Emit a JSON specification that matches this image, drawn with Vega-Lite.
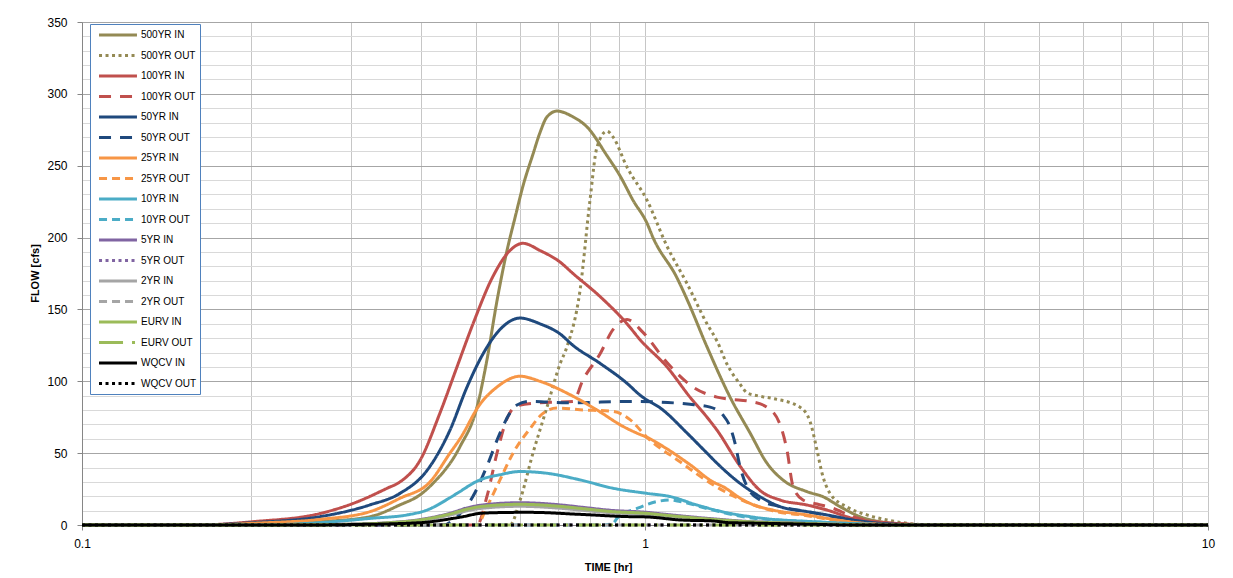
{
  "$schema": "https://vega.github.io/schema/vega-lite/v6.json",
  "width": 1126,
  "height": 503,
  "autosize": {"type": "none"},
  "padding": {"left": 82, "top": 22, "right": 25, "bottom": 53},
  "background": "white",
  "config": {
    "font": "Liberation Sans",
    "view": {"stroke": "#C6C6C6"},
    "legend": {
      "orient": "none", "legendX": 8, "legendY": 2, "direction": "vertical",
      "symbolType": "M-3.45,0H3.45", "symbolSize": 121, "symbolStrokeWidth": 3, "symbolOffset": 17,
      "labelFont": "Liberation Sans",
      "labelFontSize": 10, "labelOffset": 16, "rowPadding": 7.5, "padding": 4,
      "strokeColor": "#4F81BD", "fillColor": "white", "symbolOpacity": 1, "labelLimit": 200
    }
  },
  "data": {"values": [
    {"s":"500YR IN","t":0.1,"v":0},{"s":"500YR IN","t":0.17,"v":0},{"s":"500YR IN","t":0.2012,"v":0.5},{"s":"500YR IN","t":0.2647,"v":2.3},{"s":"500YR IN","t":0.3247,"v":5.8},{"s":"500YR IN","t":0.3671,"v":14},{"s":"500YR IN","t":0.3985,"v":21},{"s":"500YR IN","t":0.4202,"v":29},{"s":"500YR IN","t":0.4692,"v":54.5},{"s":"500YR IN","t":0.503,"v":82},{"s":"500YR IN","t":0.524,"v":115},{"s":"500YR IN","t":0.5459,"v":156},{"s":"500YR IN","t":0.5687,"v":191},{"s":"500YR IN","t":0.5878,"v":214},{"s":"500YR IN","t":0.6072,"v":236},{"s":"500YR IN","t":0.6324,"v":258},{"s":"500YR IN","t":0.6508,"v":273},{"s":"500YR IN","t":0.6698,"v":284},{"s":"500YR IN","t":0.6977,"v":288},{"s":"500YR IN","t":0.7449,"v":284},{"s":"500YR IN","t":0.7888,"v":277},{"s":"500YR IN","t":0.856,"v":257},{"s":"500YR IN","t":0.9028,"v":243},{"s":"500YR IN","t":0.9521,"v":226},{"s":"500YR IN","t":1.0082,"v":210},{"s":"500YR IN","t":1.0333,"v":200},{"s":"500YR IN","t":1.1397,"v":172},{"s":"500YR IN","t":1.1875,"v":157},{"s":"500YR IN","t":1.2886,"v":124},{"s":"500YR IN","t":1.416,"v":89},{"s":"500YR IN","t":1.537,"v":64},{"s":"500YR IN","t":1.6471,"v":43},{"s":"500YR IN","t":1.7585,"v":31.3},{"s":"500YR IN","t":1.94,"v":23.2},{"s":"500YR IN","t":2.071,"v":19.7},{"s":"500YR IN","t":2.22,"v":12.8},{"s":"500YR IN","t":2.409,"v":5.8},{"s":"500YR IN","t":2.615,"v":2.3},{"s":"500YR IN","t":2.92,"v":0.5},{"s":"500YR IN","t":3.2,"v":0},{"s":"500YR IN","t":10,"v":0},

    {"s":"500YR OUT","t":0.1,"v":0},{"s":"500YR OUT","t":0.5757,"v":0},{"s":"500YR OUT","t":0.5997,"v":17},{"s":"500YR OUT","t":0.6324,"v":50},{"s":"500YR OUT","t":0.6698,"v":82},{"s":"500YR OUT","t":0.7063,"v":112},{"s":"500YR OUT","t":0.7268,"v":124},{"s":"500YR OUT","t":0.7665,"v":163},{"s":"500YR OUT","t":0.7985,"v":226},{"s":"500YR OUT","t":0.8218,"v":263},{"s":"500YR OUT","t":0.856,"v":274},{"s":"500YR OUT","t":0.8773,"v":270},{"s":"500YR OUT","t":0.9291,"v":249},{"s":"500YR OUT","t":1.0082,"v":226},{"s":"500YR OUT","t":1.094,"v":194},{"s":"500YR OUT","t":1.1875,"v":168},{"s":"500YR OUT","t":1.2886,"v":140},{"s":"500YR OUT","t":1.3424,"v":128},{"s":"500YR OUT","t":1.3982,"v":112},{"s":"500YR OUT","t":1.475,"v":98},{"s":"500YR OUT","t":1.5179,"v":92},{"s":"500YR OUT","t":1.5809,"v":90},{"s":"500YR OUT","t":1.6878,"v":88},{"s":"500YR OUT","t":1.885,"v":82},{"s":"500YR OUT","t":1.964,"v":72},{"s":"500YR OUT","t":2.021,"v":52},{"s":"500YR OUT","t":2.063,"v":36},{"s":"500YR OUT","t":2.131,"v":22},{"s":"500YR OUT","t":2.285,"v":12.5},{"s":"500YR OUT","t":2.479,"v":7},{"s":"500YR OUT","t":2.691,"v":3.5},{"s":"500YR OUT","t":2.92,"v":1.2},{"s":"500YR OUT","t":3.2,"v":0},{"s":"500YR OUT","t":10,"v":0},

    {"s":"100YR IN","t":0.1,"v":0},{"s":"100YR IN","t":0.16,"v":0},{"s":"100YR IN","t":0.2012,"v":2.3},{"s":"100YR IN","t":0.2647,"v":8},{"s":"100YR IN","t":0.303,"v":15},{"s":"100YR IN","t":0.348,"v":25.5},{"s":"100YR IN","t":0.3671,"v":30},{"s":"100YR IN","t":0.3985,"v":45},{"s":"100YR IN","t":0.4324,"v":78},{"s":"100YR IN","t":0.4635,"v":110},{"s":"100YR IN","t":0.4949,"v":140},{"s":"100YR IN","t":0.537,"v":173},{"s":"100YR IN","t":0.5757,"v":191},{"s":"100YR IN","t":0.6072,"v":196},{"s":"100YR IN","t":0.6508,"v":191},{"s":"100YR IN","t":0.7063,"v":183},{"s":"100YR IN","t":0.7449,"v":175},{"s":"100YR IN","t":0.8319,"v":159},{"s":"100YR IN","t":0.9291,"v":140},{"s":"100YR IN","t":0.9797,"v":129},{"s":"100YR IN","t":1.094,"v":110},{"s":"100YR IN","t":1.202,"v":89},{"s":"100YR IN","t":1.2886,"v":75},{"s":"100YR IN","t":1.3424,"v":66},{"s":"100YR IN","t":1.475,"v":41},{"s":"100YR IN","t":1.601,"v":24},{"s":"100YR IN","t":1.737,"v":17.4},{"s":"100YR IN","t":1.94,"v":13.9},{"s":"100YR IN","t":2.105,"v":10.4},{"s":"100YR IN","t":2.341,"v":4.6},{"s":"100YR IN","t":2.691,"v":1.6},{"s":"100YR IN","t":2.92,"v":0.7},{"s":"100YR IN","t":3.2,"v":0},{"s":"100YR IN","t":10,"v":0},

    {"s":"100YR OUT","t":0.1,"v":0},{"s":"100YR OUT","t":0.503,"v":0},{"s":"100YR OUT","t":0.524,"v":20},{"s":"100YR OUT","t":0.5459,"v":50},{"s":"100YR OUT","t":0.5687,"v":74},{"s":"100YR OUT","t":0.5925,"v":83},{"s":"100YR OUT","t":0.6508,"v":85},{"s":"100YR OUT","t":0.7449,"v":86},{"s":"100YR OUT","t":0.776,"v":101},{"s":"100YR OUT","t":0.8319,"v":119},{"s":"100YR OUT","t":0.8773,"v":136},{"s":"100YR OUT","t":0.9291,"v":143},{"s":"100YR OUT","t":0.9918,"v":134},{"s":"100YR OUT","t":1.094,"v":113},{"s":"100YR OUT","t":1.217,"v":96},{"s":"100YR OUT","t":1.3424,"v":89},{"s":"100YR OUT","t":1.416,"v":87.5},{"s":"100YR OUT","t":1.537,"v":86},{"s":"100YR OUT","t":1.6471,"v":82},{"s":"100YR OUT","t":1.737,"v":70},{"s":"100YR OUT","t":1.7874,"v":52},{"s":"100YR OUT","t":1.8319,"v":27},{"s":"100YR OUT","t":1.9085,"v":17.4},{"s":"100YR OUT","t":2.021,"v":14.6},{"s":"100YR OUT","t":2.158,"v":11.6},{"s":"100YR OUT","t":2.341,"v":5.8},{"s":"100YR OUT","t":2.615,"v":1.6},{"s":"100YR OUT","t":2.9,"v":0.3},{"s":"100YR OUT","t":3.2,"v":0},{"s":"100YR OUT","t":10,"v":0},

    {"s":"50YR IN","t":0.1,"v":0},{"s":"50YR IN","t":0.16,"v":0},{"s":"50YR IN","t":0.2012,"v":1.6},{"s":"50YR IN","t":0.2647,"v":5.8},{"s":"50YR IN","t":0.3247,"v":14},{"s":"50YR IN","t":0.3671,"v":22},{"s":"50YR IN","t":0.4101,"v":38},{"s":"50YR IN","t":0.4504,"v":66},{"s":"50YR IN","t":0.4829,"v":96},{"s":"50YR IN","t":0.5155,"v":119},{"s":"50YR IN","t":0.5526,"v":136},{"s":"50YR IN","t":0.5997,"v":144},{"s":"50YR IN","t":0.6508,"v":140},{"s":"50YR IN","t":0.7063,"v":133},{"s":"50YR IN","t":0.7449,"v":125},{"s":"50YR IN","t":0.8319,"v":112.5},{"s":"50YR IN","t":0.9291,"v":98.6},{"s":"50YR IN","t":0.9797,"v":90.4},{"s":"50YR IN","t":1.0763,"v":80},{"s":"50YR IN","t":1.1875,"v":64},{"s":"50YR IN","t":1.2886,"v":50},{"s":"50YR IN","t":1.3424,"v":43},{"s":"50YR IN","t":1.475,"v":29},{"s":"50YR IN","t":1.5809,"v":21},{"s":"50YR IN","t":1.737,"v":12.8},{"s":"50YR IN","t":1.94,"v":9.3},{"s":"50YR IN","t":2.105,"v":7},{"s":"50YR IN","t":2.341,"v":3.5},{"s":"50YR IN","t":2.615,"v":1.2},{"s":"50YR IN","t":2.9,"v":0.3},{"s":"50YR IN","t":3.2,"v":0},{"s":"50YR IN","t":10,"v":0},

    {"s":"50YR OUT","t":0.1,"v":0},{"s":"50YR OUT","t":0.4378,"v":0},{"s":"50YR OUT","t":0.4635,"v":5.8},{"s":"50YR OUT","t":0.4949,"v":20},{"s":"50YR OUT","t":0.524,"v":41},{"s":"50YR OUT","t":0.5526,"v":64},{"s":"50YR OUT","t":0.5757,"v":78},{"s":"50YR OUT","t":0.5925,"v":83.5},{"s":"50YR OUT","t":0.6247,"v":86},{"s":"50YR OUT","t":0.7268,"v":85},{"s":"50YR OUT","t":0.9521,"v":86},{"s":"50YR OUT","t":1.202,"v":84},{"s":"50YR OUT","t":1.305,"v":82},{"s":"50YR OUT","t":1.3755,"v":76.5},{"s":"50YR OUT","t":1.416,"v":68.4},{"s":"50YR OUT","t":1.445,"v":57},{"s":"50YR OUT","t":1.475,"v":40.6},{"s":"50YR OUT","t":1.5179,"v":26.7},{"s":"50YR OUT","t":1.601,"v":17.4},{"s":"50YR OUT","t":1.737,"v":12.8},{"s":"50YR OUT","t":1.94,"v":9.3},{"s":"50YR OUT","t":2.158,"v":5.8},{"s":"50YR OUT","t":2.479,"v":1.6},{"s":"50YR OUT","t":2.8,"v":0.3},{"s":"50YR OUT","t":3.1,"v":0},{"s":"50YR OUT","t":10,"v":0},

    {"s":"25YR IN","t":0.1,"v":0},{"s":"25YR IN","t":0.17,"v":0},{"s":"25YR IN","t":0.2012,"v":1.2},{"s":"25YR IN","t":0.2647,"v":3.9},{"s":"25YR IN","t":0.3247,"v":9.3},{"s":"25YR IN","t":0.3671,"v":18.6},{"s":"25YR IN","t":0.4151,"v":30},{"s":"25YR IN","t":0.4504,"v":50},{"s":"25YR IN","t":0.4692,"v":60},{"s":"25YR IN","t":0.5092,"v":84},{"s":"25YR IN","t":0.5459,"v":96},{"s":"25YR IN","t":0.5997,"v":103.5},{"s":"25YR IN","t":0.6508,"v":100},{"s":"25YR IN","t":0.7357,"v":90.7},{"s":"25YR IN","t":0.8218,"v":80},{"s":"25YR IN","t":0.9141,"v":68.6},{"s":"25YR IN","t":0.9797,"v":63},{"s":"25YR IN","t":1.0082,"v":61},{"s":"25YR IN","t":1.0763,"v":54.7},{"s":"25YR IN","t":1.202,"v":42},{"s":"25YR IN","t":1.3207,"v":30},{"s":"25YR IN","t":1.3755,"v":26.7},{"s":"25YR IN","t":1.4932,"v":17.5},{"s":"25YR IN","t":1.537,"v":15},{"s":"25YR IN","t":1.6878,"v":10.4},{"s":"25YR IN","t":1.94,"v":7},{"s":"25YR IN","t":2.158,"v":3.9},{"s":"25YR IN","t":2.38,"v":1.6},{"s":"25YR IN","t":2.7,"v":0.3},{"s":"25YR IN","t":3.0,"v":0},{"s":"25YR IN","t":10,"v":0},

    {"s":"25YR OUT","t":0.1,"v":0},{"s":"25YR OUT","t":0.503,"v":0},{"s":"25YR OUT","t":0.524,"v":12.8},{"s":"25YR OUT","t":0.5526,"v":31.4},{"s":"25YR OUT","t":0.5829,"v":50},{"s":"25YR OUT","t":0.6247,"v":67},{"s":"25YR OUT","t":0.6589,"v":77.7},{"s":"25YR OUT","t":0.6977,"v":81.4},{"s":"25YR OUT","t":0.7665,"v":80.2},{"s":"25YR OUT","t":0.8773,"v":79},{"s":"25YR OUT","t":0.9405,"v":73.3},{"s":"25YR OUT","t":1.0082,"v":61},{"s":"25YR OUT","t":1.154,"v":44},{"s":"25YR OUT","t":1.3207,"v":28},{"s":"25YR OUT","t":1.4932,"v":17},{"s":"25YR OUT","t":1.6878,"v":9.8},{"s":"25YR OUT","t":1.94,"v":6.5},{"s":"25YR OUT","t":2.158,"v":3.5},{"s":"25YR OUT","t":2.38,"v":1.4},{"s":"25YR OUT","t":2.7,"v":0.3},{"s":"25YR OUT","t":3.0,"v":0},{"s":"25YR OUT","t":10,"v":0},

    {"s":"10YR IN","t":0.1,"v":0},{"s":"10YR IN","t":0.2,"v":0},{"s":"10YR IN","t":0.2647,"v":1.6},{"s":"10YR IN","t":0.3247,"v":4.6},{"s":"10YR IN","t":0.3778,"v":7},{"s":"10YR IN","t":0.4101,"v":10.4},{"s":"10YR IN","t":0.4504,"v":19},{"s":"10YR IN","t":0.4635,"v":22},{"s":"10YR IN","t":0.5092,"v":31.4},{"s":"10YR IN","t":0.5526,"v":35},{"s":"10YR IN","t":0.5997,"v":37.2},{"s":"10YR IN","t":0.6698,"v":36},{"s":"10YR IN","t":0.7665,"v":31.4},{"s":"10YR IN","t":0.8773,"v":25.6},{"s":"10YR IN","t":1.0082,"v":22},{"s":"10YR IN","t":1.108,"v":19.8},{"s":"10YR IN","t":1.237,"v":13.9},{"s":"10YR IN","t":1.416,"v":8.1},{"s":"10YR IN","t":1.537,"v":5.8},{"s":"10YR IN","t":1.6204,"v":4.6},{"s":"10YR IN","t":1.9884,"v":2.3},{"s":"10YR IN","t":2.439,"v":0.7},{"s":"10YR IN","t":2.8,"v":0},{"s":"10YR IN","t":10,"v":0},

    {"s":"10YR OUT","t":0.1,"v":0},{"s":"10YR OUT","t":0.8423,"v":0},{"s":"10YR OUT","t":0.8773,"v":1.2},{"s":"10YR OUT","t":0.8918,"v":4.6},{"s":"10YR OUT","t":0.9678,"v":11.5},{"s":"10YR OUT","t":1.0503,"v":16.3},{"s":"10YR OUT","t":1.108,"v":17.4},{"s":"10YR OUT","t":1.154,"v":16.3},{"s":"10YR OUT","t":1.3207,"v":10.4},{"s":"10YR OUT","t":1.5179,"v":5.3},{"s":"10YR OUT","t":1.8621,"v":2.8},{"s":"10YR OUT","t":2.439,"v":0.7},{"s":"10YR OUT","t":2.8,"v":0},{"s":"10YR OUT","t":10,"v":0},

    {"s":"5YR IN","t":0.1,"v":0},{"s":"5YR IN","t":0.2,"v":0},{"s":"5YR IN","t":0.3,"v":0.6},{"s":"5YR IN","t":0.35,"v":1.6},{"s":"5YR IN","t":0.3985,"v":3.8},{"s":"5YR IN","t":0.4504,"v":8.2},{"s":"5YR IN","t":0.4829,"v":11.8},{"s":"5YR IN","t":0.5092,"v":13.7},{"s":"5YR IN","t":0.5997,"v":15.5},{"s":"5YR IN","t":0.7151,"v":13.8},{"s":"5YR IN","t":0.7665,"v":12.5},{"s":"5YR IN","t":0.8773,"v":10.1},{"s":"5YR IN","t":1.0082,"v":8.8},{"s":"5YR IN","t":1.0763,"v":7.6},{"s":"5YR IN","t":1.3207,"v":4.3},{"s":"5YR IN","t":1.5179,"v":2.5},{"s":"5YR IN","t":1.8621,"v":1.3},{"s":"5YR IN","t":2.3,"v":0.3},{"s":"5YR IN","t":2.6,"v":0},{"s":"5YR IN","t":10,"v":0},

    {"s":"5YR OUT","t":0.1,"v":0},{"s":"5YR OUT","t":10,"v":0},

    {"s":"2YR IN","t":0.1,"v":0},{"s":"2YR IN","t":0.2,"v":0},{"s":"2YR IN","t":0.3,"v":0.4},{"s":"2YR IN","t":0.35,"v":1.3},{"s":"2YR IN","t":0.3985,"v":3.1},{"s":"2YR IN","t":0.4504,"v":6.9},{"s":"2YR IN","t":0.4829,"v":9.9},{"s":"2YR IN","t":0.5092,"v":11.5},{"s":"2YR IN","t":0.5997,"v":13},{"s":"2YR IN","t":0.7151,"v":11.5},{"s":"2YR IN","t":0.7665,"v":10.4},{"s":"2YR IN","t":0.8773,"v":8.4},{"s":"2YR IN","t":1.0082,"v":7.3},{"s":"2YR IN","t":1.0763,"v":6.3},{"s":"2YR IN","t":1.3207,"v":3.5},{"s":"2YR IN","t":1.5179,"v":2.1},{"s":"2YR IN","t":1.8621,"v":1.1},{"s":"2YR IN","t":2.3,"v":0.3},{"s":"2YR IN","t":2.6,"v":0},{"s":"2YR IN","t":10,"v":0},

    {"s":"2YR OUT","t":0.1,"v":0},{"s":"2YR OUT","t":10,"v":0},

    {"s":"EURV IN","t":0.1,"v":0},{"s":"EURV IN","t":0.2,"v":0},{"s":"EURV IN","t":0.3,"v":0.5},{"s":"EURV IN","t":0.35,"v":1.5},{"s":"EURV IN","t":0.3985,"v":3.5},{"s":"EURV IN","t":0.4504,"v":7.7},{"s":"EURV IN","t":0.4829,"v":11},{"s":"EURV IN","t":0.5092,"v":12.8},{"s":"EURV IN","t":0.5997,"v":14.4},{"s":"EURV IN","t":0.7151,"v":12.8},{"s":"EURV IN","t":0.7665,"v":11.6},{"s":"EURV IN","t":0.8773,"v":9.3},{"s":"EURV IN","t":1.0082,"v":8.1},{"s":"EURV IN","t":1.0763,"v":7},{"s":"EURV IN","t":1.3207,"v":3.9},{"s":"EURV IN","t":1.5179,"v":2.3},{"s":"EURV IN","t":1.8621,"v":1.2},{"s":"EURV IN","t":2.3,"v":0.3},{"s":"EURV IN","t":2.6,"v":0},{"s":"EURV IN","t":10,"v":0},

    {"s":"EURV OUT","t":0.1,"v":0},{"s":"EURV OUT","t":10,"v":0},

    {"s":"WQCV IN","t":0.1,"v":0},{"s":"WQCV IN","t":0.25,"v":0},{"s":"WQCV IN","t":0.3,"v":0.3},{"s":"WQCV IN","t":0.3985,"v":1.6},{"s":"WQCV IN","t":0.456,"v":4.6},{"s":"WQCV IN","t":0.475,"v":5.8},{"s":"WQCV IN","t":0.5092,"v":8.1},{"s":"WQCV IN","t":0.5459,"v":8.6},{"s":"WQCV IN","t":0.5997,"v":8.8},{"s":"WQCV IN","t":0.6247,"v":8.8},{"s":"WQCV IN","t":0.7665,"v":7.4},{"s":"WQCV IN","t":0.9405,"v":5.8},{"s":"WQCV IN","t":1.0082,"v":5.6},{"s":"WQCV IN","t":1.154,"v":3.5},{"s":"WQCV IN","t":1.3207,"v":2.8},{"s":"WQCV IN","t":1.416,"v":1.6},{"s":"WQCV IN","t":1.5179,"v":1.4},{"s":"WQCV IN","t":1.9884,"v":0.5},{"s":"WQCV IN","t":2.3,"v":0},{"s":"WQCV IN","t":10,"v":0},

    {"s":"WQCV OUT","t":0.1,"v":0},{"s":"WQCV OUT","t":10,"v":0}
  ]},
  "mark": {"type": "line", "strokeWidth": 3, "strokeJoin": "round", "interpolate": "monotone", "clip": false},
  "encoding": {
    "x": {
      "field": "t", "type": "quantitative",
      "scale": {"type": "log", "domain": [0.1, 10], "nice": false},
      "axis": {
        "title": "TIME [hr]", "titleFont": "Liberation Sans", "titleFontSize": 11, "titleFontWeight": "bold",
        "titleX": 526, "titleY": 42, "titleBaseline": "middle",
        "values": [0.1,0.2,0.3,0.4,0.5,0.6,0.7,0.8,0.9,1,2,3,4,5,6,7,8,9,10],
        "labelExpr": "datum.value == 0.1 ? '0.1' : (datum.value == 1 ? '1' : (datum.value == 10 ? '10' : ''))",
        "labelFontSize": 12, "labelColor": "#000000", "labelPadding": 8, "labelFlush": false, "labelOverlap": false,
        "tickSize": 5, "tickColor": "#868686",
        "tickOpacity": {"condition": {"test": "datum.value == 0.1 || datum.value == 1 || datum.value == 10", "value": 1}, "value": 0},
        "domainColor": "#868686",
        "grid": true, "gridColor": "#C6C6C6", "gridWidth": 1
      }
    },
    "y": {
      "field": "v", "type": "quantitative",
      "scale": {"domain": [0, 350], "nice": false, "zero": true},
      "axis": {
        "title": "FLOW [cfs]", "titleFont": "Liberation Sans", "titleFontSize": 11, "titleFontWeight": "bold",
        "titleX": -47, "titleY": 251, "titleAngle": -90, "titleBaseline": "middle", "titleAlign": "center",
        "values": [0,10,20,30,40,50,60,70,80,90,100,110,120,130,140,150,160,170,180,190,200,210,220,230,240,250,260,270,280,290,300,310,320,330,340,350],
        "labelExpr": "datum.value % 50 == 0 ? datum.label : ''",
        "labelFontSize": 12, "labelColor": "#000000", "labelPadding": 10, "labelOverlap": false,
        "tickSize": 5, "tickColor": "#868686",
        "tickOpacity": {"condition": {"test": "datum.value % 50 == 0", "value": 1}, "value": 0},
        "domainColor": "#868686",
        "grid": true,
        "gridColor": {"condition": {"test": "datum.value % 50 == 0", "value": "#A6A6A6"}, "value": "#D9D9D9"},
        "gridWidth": 1
      }
    },
    "color": {
      "field": "s", "type": "nominal", "title": null,
      "scale": {
        "domain": ["500YR IN","500YR OUT","100YR IN","100YR OUT","50YR IN","50YR OUT","25YR IN","25YR OUT","10YR IN","10YR OUT","5YR IN","5YR OUT","2YR IN","2YR OUT","EURV IN","EURV OUT","WQCV IN","WQCV OUT"],
        "range": ["#948A54","#948A54","#C0504D","#C0504D","#1F497D","#1F497D","#F79646","#F79646","#4BACC6","#4BACC6","#8064A2","#8064A2","#A5A5A5","#A5A5A5","#9BBB59","#9BBB59","#000000","#000000"]
      }
    },
    "strokeDash": {
      "field": "s", "type": "nominal", "title": null,
      "scale": {
        "domain": ["500YR IN","500YR OUT","100YR IN","100YR OUT","50YR IN","50YR OUT","25YR IN","25YR OUT","10YR IN","10YR OUT","5YR IN","5YR OUT","2YR IN","2YR OUT","EURV IN","EURV OUT","WQCV IN","WQCV OUT"],
        "range": [[1,0],[3,3.5],[1,0],[12,9],[1,0],[12,9],[1,0],[8,5],[1,0],[8,5],[1,0],[3,3.5],[1,0],[8,5],[1,0],[24,9,3,9],[1,0],[3,3.5]]
      }
    }
  }
}
